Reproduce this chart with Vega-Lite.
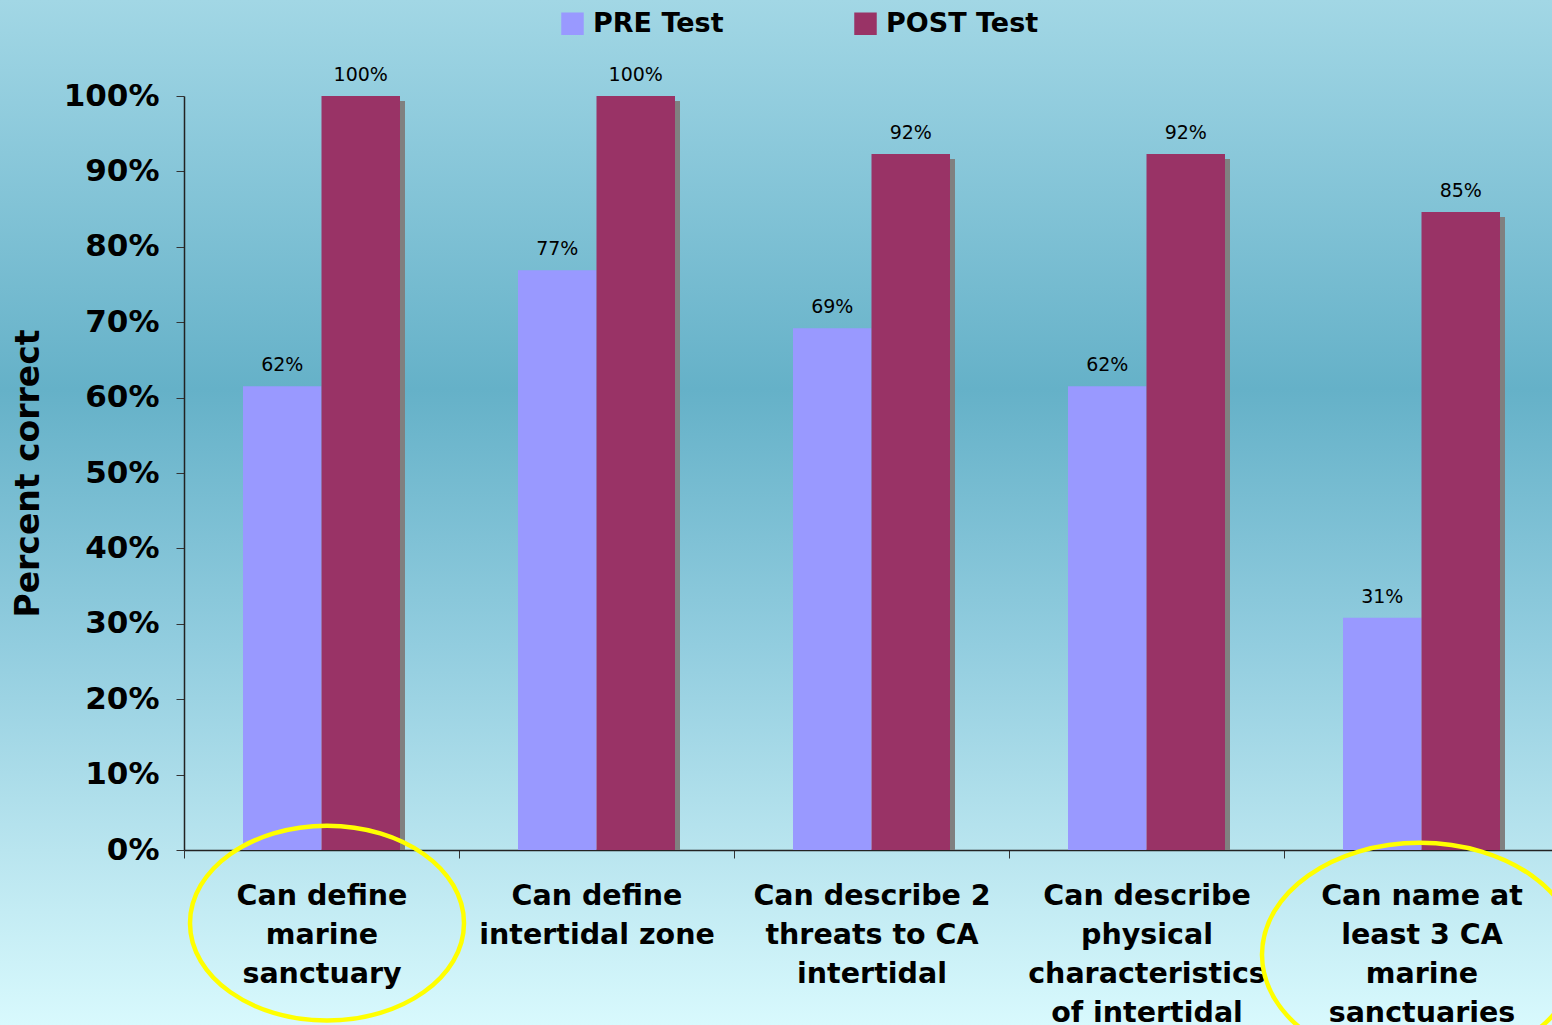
{
  "$schema": "https://vega.github.io/schema/vega-lite/v6.json",
  "width": 1552,
  "height": 1025,
  "autosize": "none",
  "padding": 0,
  "background": "#9fd3e1",
  "config": {
    "view": {
      "stroke": null,
      "fill": {
        "gradient": "linear",
        "x1": 0, "y1": 0, "x2": 0, "y2": 1,
        "stops": [
          {"offset": 0, "color": "#a2d7e5"},
          {"offset": 0.1, "color": "#92cdde"},
          {"offset": 0.38, "color": "#65b1c8"},
          {"offset": 0.63, "color": "#92cddf"},
          {"offset": 0.83, "color": "#b9e5ef"},
          {"offset": 1, "color": "#d8f9fd"}
        ]
      }
    },
    "font": "DejaVu Sans",
    "axis": {"grid": false, "zindex": 1}
  },
  "data": {
    "values": [
      {"question": "Can define\nmarine\nsanctuary", "test": "PRE Test", "pct": 0.615},
      {"question": "Can define\nmarine\nsanctuary", "test": "POST Test", "pct": 1.0},
      {"question": "Can define\nintertidal zone", "test": "PRE Test", "pct": 0.769},
      {"question": "Can define\nintertidal zone", "test": "POST Test", "pct": 1.0},
      {"question": "Can describe 2\nthreats to CA\nintertidal", "test": "PRE Test", "pct": 0.692},
      {"question": "Can describe 2\nthreats to CA\nintertidal", "test": "POST Test", "pct": 0.923},
      {"question": "Can describe\nphysical\ncharacteristics\nof intertidal", "test": "PRE Test", "pct": 0.615},
      {"question": "Can describe\nphysical\ncharacteristics\nof intertidal", "test": "POST Test", "pct": 0.923},
      {"question": "Can name at\nleast 3 CA\nmarine\nsanctuaries", "test": "PRE Test", "pct": 0.308},
      {"question": "Can name at\nleast 3 CA\nmarine\nsanctuaries", "test": "POST Test", "pct": 0.846}
    ]
  },
  "encoding": {
    "x": {
      "field": "question",
      "type": "nominal",
      "sort": null,
      "scale": {"range": [184, 1559], "paddingInner": 0, "paddingOuter": 0},
      "axis": {
        "title": null,
        "orient": "bottom",
        "offset": -175,
        "labelAngle": 0,
        "labelExpr": "split(datum.label, '\\n')",
        "labelFont": "DejaVu Sans",
        "labelFontWeight": "bold",
        "labelFontSize": 28.5,
        "labelLineHeight": 39,
        "labelColor": "#000000",
        "labelPadding": 23,
        "labelLimit": 400,
        "labelOverlap": false,
        "tickBand": "extent",
        "tickSize": 8,
        "tickColor": "#333333",
        "domainColor": "#222222",
        "domainWidth": 1.5
      }
    },
    "y": {
      "field": "pct",
      "type": "quantitative",
      "scale": {"domain": [0, 1], "range": [850, 96], "nice": false, "zero": true},
      "axis": {
        "title": "Percent correct",
        "orient": "left",
        "offset": -184,
        "values": [0, 0.1, 0.2, 0.3, 0.4, 0.5, 0.6, 0.7, 0.8, 0.9, 1.0],
        "format": ".0%",
        "labelFont": "DejaVu Sans",
        "labelFontWeight": "bold",
        "labelFontSize": 31,
        "labelColor": "#000000",
        "labelPadding": 17,
        "tickSize": 8,
        "tickColor": "#333333",
        "domainColor": "#222222",
        "domainWidth": 1.5,
        "titleFont": "DejaVu Sans",
        "titleFontWeight": "bold",
        "titleFontSize": 33,
        "titleColor": "#000000",
        "titlePadding": 18
      }
    },
    "xOffset": {
      "field": "test",
      "type": "nominal",
      "sort": ["PRE Test", "POST Test"],
      "scale": {"paddingInner": 0, "paddingOuter": 0.7516}
    }
  },
  "layer": [
    {
      "transform": [{"filter": "datum.test == 'POST Test'"}],
      "mark": {"type": "bar", "color": "#808080", "width": 78.5, "xOffset": 44.25, "yOffset": 5, "y2Offset": 0.01},
      "encoding": {"xOffset": null, "y2": {"datum": 0}}
    },
    {
      "mark": {"type": "bar"},
      "encoding": {
        "color": {
          "field": "test",
          "type": "nominal",
          "scale": {"domain": ["PRE Test", "POST Test"], "range": ["#9999ff", "#993366"]},
          "legend": {
            "title": null,
            "orient": "none",
            "legendX": 559,
            "legendY": 10,
            "direction": "horizontal",
            "symbolType": "square",
            "symbolSize": 506,
            "symbolStrokeWidth": 0,
            "labelFont": "DejaVu Sans",
            "labelFontWeight": "bold",
            "labelFontSize": 27,
            "labelColor": "#000000",
            "labelOffset": 7,
            "columnPadding": 128,
            "labelLimit": 300
          }
        }
      }
    },
    {
      "mark": {"type": "text", "dy": -15, "baseline": "alphabetic", "fontSize": 19, "font": "DejaVu Sans", "color": "#000000"},
      "encoding": {
        "text": {"field": "pct", "type": "quantitative", "format": ".0%"}
      }
    },
    {
      "data": {"values": [{"question": "Can define\nmarine\nsanctuary", "pct": -0.097}]},
      "mark": {
        "type": "point",
        "shape": "M-1,0C-1,-0.3927,-0.5523,-0.711,0,-0.711C0.5523,-0.711,1,-0.3927,1,0C1,0.3927,0.5523,0.711,0,0.711C-0.5523,0.711,-1,0.3927,-1,0Z",
        "filled": false,
        "stroke": "#ffff00",
        "strokeWidth": 4.5,
        "opacity": 1,
        "size": 75076,
        "xOffset": 5.5
      },
      "encoding": {
        "xOffset": null
      }
    },
    {
      "data": {"values": [{"question": "Can name at\nleast 3 CA\nmarine\nsanctuaries", "pct": -0.139}]},
      "mark": {
        "type": "point",
        "shape": "M-1,0C-1,-0.3916,-0.5523,-0.709,0,-0.709C0.5523,-0.709,1,-0.3916,1,0C1,0.3916,0.5523,0.709,0,0.709C-0.5523,0.709,-1,0.3916,-1,0Z",
        "filled": false,
        "stroke": "#ffff00",
        "strokeWidth": 4.5,
        "opacity": 1,
        "size": 99856,
        "xOffset": -1.5
      },
      "encoding": {
        "xOffset": null
      }
    }
  ]
}
